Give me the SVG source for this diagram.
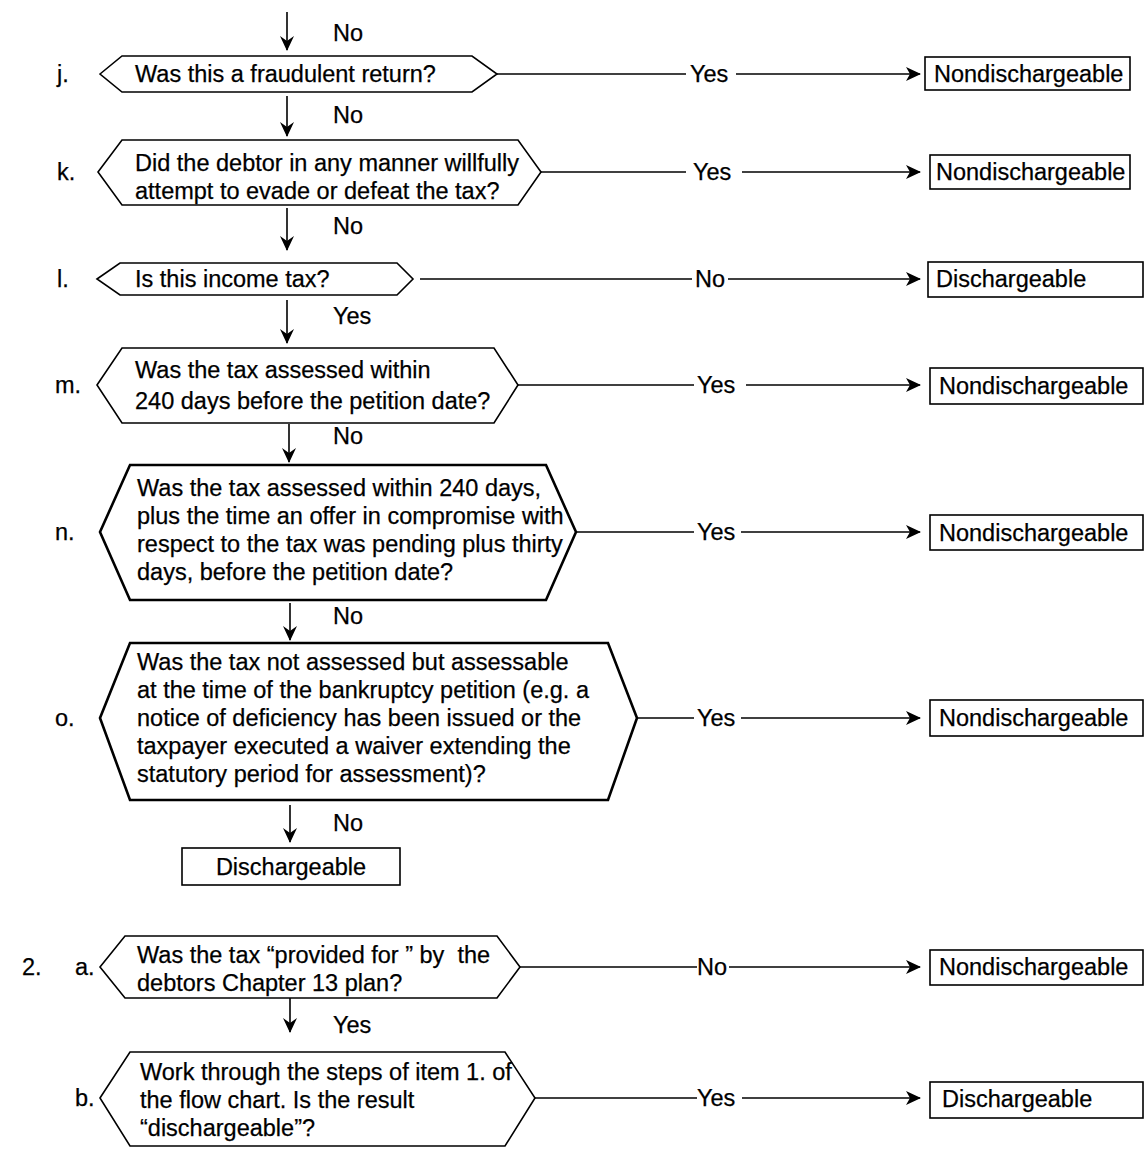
<svg xmlns="http://www.w3.org/2000/svg" width="1148" height="1149" viewBox="0 0 1148 1149">
<style>
text{font-family:"Liberation Sans",Arial,sans-serif;font-size:23.5px;fill:#000;stroke:#000;stroke-width:0.25}
.hex{fill:#fff;stroke:#000;stroke-width:1.6}
.hexb{fill:#fff;stroke:#000;stroke-width:2.6}
.box{fill:#fff;stroke:#000;stroke-width:1.6}
.ln{stroke:#000;stroke-width:1.6;fill:none}
.mid{text-anchor:middle}
</style>
<defs>
<marker id="ar" markerWidth="16" markerHeight="14" refX="14" refY="7" orient="auto" markerUnits="userSpaceOnUse">
<path d="M0,0 L15,7 L0,14 L4,7 z" fill="#000"/>
</marker>
<marker id="dn" markerWidth="16" markerHeight="14" refX="14" refY="7" orient="auto" markerUnits="userSpaceOnUse">
<path d="M0,0 L15,7 L0,14 L5,7 z" fill="#000"/>
</marker>
</defs>
<rect width="1148" height="1149" fill="#fff"/>
<g id="connectors">
<line class="ln" x1="287" y1="12" x2="287" y2="50" marker-end="url(#dn)"/>
<text x="333" y="41">No</text>
<line class="ln" x1="497" y1="74" x2="686" y2="74"/>
<text x="690" y="82">Yes</text>
<line class="ln" x1="736" y1="74" x2="920" y2="74" marker-end="url(#ar)"/>
<line class="ln" x1="287" y1="96" x2="287" y2="136" marker-end="url(#dn)"/>
<text x="333" y="123">No</text>
<line class="ln" x1="541" y1="172" x2="686" y2="172"/>
<text x="693" y="180">Yes</text>
<line class="ln" x1="742" y1="172" x2="920" y2="172" marker-end="url(#ar)"/>
<line class="ln" x1="287" y1="208" x2="287" y2="250" marker-end="url(#dn)"/>
<text x="333" y="234">No</text>
<line class="ln" x1="420" y1="279" x2="692" y2="279"/>
<text x="695" y="287">No</text>
<line class="ln" x1="728" y1="279" x2="920" y2="279" marker-end="url(#ar)"/>
<line class="ln" x1="287" y1="300" x2="287" y2="343" marker-end="url(#dn)"/>
<text x="333" y="324">Yes</text>
<line class="ln" x1="518" y1="385" x2="694" y2="385"/>
<text x="697" y="393">Yes</text>
<line class="ln" x1="746" y1="385" x2="920" y2="385" marker-end="url(#ar)"/>
<line class="ln" x1="289" y1="424" x2="289" y2="462" marker-end="url(#dn)"/>
<text x="333" y="444">No</text>
<line class="ln" x1="576" y1="532" x2="694" y2="532"/>
<text x="697" y="540">Yes</text>
<line class="ln" x1="741" y1="532" x2="920" y2="532" marker-end="url(#ar)"/>
<line class="ln" x1="290" y1="603" x2="290" y2="640" marker-end="url(#dn)"/>
<text x="333" y="624">No</text>
<line class="ln" x1="637" y1="718" x2="694" y2="718"/>
<text x="697" y="726">Yes</text>
<line class="ln" x1="741" y1="718" x2="920" y2="718" marker-end="url(#ar)"/>
<line class="ln" x1="290" y1="805" x2="290" y2="842" marker-end="url(#dn)"/>
<text x="333" y="831">No</text>
<line class="ln" x1="520" y1="967" x2="697" y2="967"/>
<text x="697" y="975">No</text>
<line class="ln" x1="729" y1="967" x2="920" y2="967" marker-end="url(#ar)"/>
<line class="ln" x1="290" y1="990" x2="290" y2="1032" marker-end="url(#dn)"/>
<text x="333" y="1033">Yes</text>
<line class="ln" x1="535" y1="1098" x2="697" y2="1098"/>
<text x="697" y="1106">Yes</text>
<line class="ln" x1="742" y1="1098" x2="920" y2="1098" marker-end="url(#ar)"/>
</g>
<g id="j">
<text x="57" y="82">j.</text>
<polygon class="hex" points="100,74 122,56 472,56 497,74 472,92 122,92"/>
<text x="135" y="82">Was this a fraudulent return?</text>
</g>
<g id="j-out"><rect class="box" x="925" y="57" width="205" height="33"/><text x="934" y="82">Nondischargeable</text></g>
<g id="k">
<text x="57" y="180">k.</text>
<polygon class="hex" points="98,172 122,140 518,140 541,172 518,205 122,205"/>
<text x="135" y="171">Did the debtor in any manner willfully</text>
<text x="135" y="199">attempt to evade or defeat the tax?</text>
</g>
<g id="k-out"><rect class="box" x="930" y="155" width="200" height="34"/><text x="936" y="180">Nondischargeable</text></g>
<g id="l">
<text x="57" y="287">l.</text>
<polygon class="hex" points="97,279 120,263 397,263 413,279 397,295 120,295"/>
<text x="135" y="287">Is this income tax?</text>
</g>
<g id="l-out"><rect class="box" x="928" y="262" width="215" height="35"/><text x="936" y="287">Dischargeable</text></g>
<g id="m">
<text x="55" y="393">m.</text>
<polygon class="hex" points="97,385 122,348 494,348 518,385 494,423 122,423"/>
<text x="135" y="378">Was the tax assessed within</text>
<text x="135" y="409">240 days before the petition date?</text>
</g>
<g id="m-out"><rect class="box" x="930" y="368" width="213" height="36"/><text x="939" y="394">Nondischargeable</text></g>
<g id="n">
<text x="55" y="540">n.</text>
<polygon class="hexb" points="100,532 130,465 546,465 576,532 546,600 130,600"/>
<text x="137" y="496">Was the tax assessed within 240 days,</text>
<text x="137" y="524">plus the time an offer in compromise with</text>
<text x="137" y="552">respect to the tax was pending plus thirty</text>
<text x="137" y="580">days, before the petition date?</text>
</g>
<g id="n-out"><rect class="box" x="930" y="515" width="213" height="35"/><text x="939" y="541">Nondischargeable</text></g>
<g id="o">
<text x="55" y="726">o.</text>
<polygon class="hexb" points="100,718 130,643 608,643 637,718 608,800 130,800"/>
<text x="137" y="670">Was the tax not assessed but assessable</text>
<text x="137" y="698">at the time of the bankruptcy petition (e.g. a</text>
<text x="137" y="726">notice of deficiency has been issued or the</text>
<text x="137" y="754">taxpayer executed a waiver extending the</text>
<text x="137" y="782">statutory period for assessment)?</text>
</g>
<g id="o-out"><rect class="box" x="930" y="700" width="213" height="36"/><text x="939" y="726">Nondischargeable</text></g>
<g id="o-no"><rect class="box" x="182" y="848" width="218" height="37"/><text class="mid" x="291" y="875">Dischargeable</text></g>
<g id="a2">
<text x="22" y="975">2.</text>
<text x="75" y="975">a.</text>
<polygon class="hex" points="100,967 125,936 497,936 520,967 497,998 125,998"/>
<text x="137" y="963">Was the tax “provided for ” by&#160; the</text>
<text x="137" y="991">debtors Chapter 13 plan?</text>
</g>
<g id="a2-out"><rect class="box" x="930" y="950" width="213" height="35"/><text x="939" y="975">Nondischargeable</text></g>
<g id="b2">
<text x="75" y="1106">b.</text>
<polygon class="hex" points="100,1098 130,1052 505,1052 535,1098 505,1146 130,1146"/>
<text x="140" y="1080">Work through the steps of item 1. of</text>
<text x="140" y="1108">the flow chart. Is the result</text>
<text x="140" y="1136">“dischargeable”?</text>
</g>
<g id="b2-out"><rect class="box" x="930" y="1082" width="213" height="36"/><text x="942" y="1107">Dischargeable</text></g>
</svg>
